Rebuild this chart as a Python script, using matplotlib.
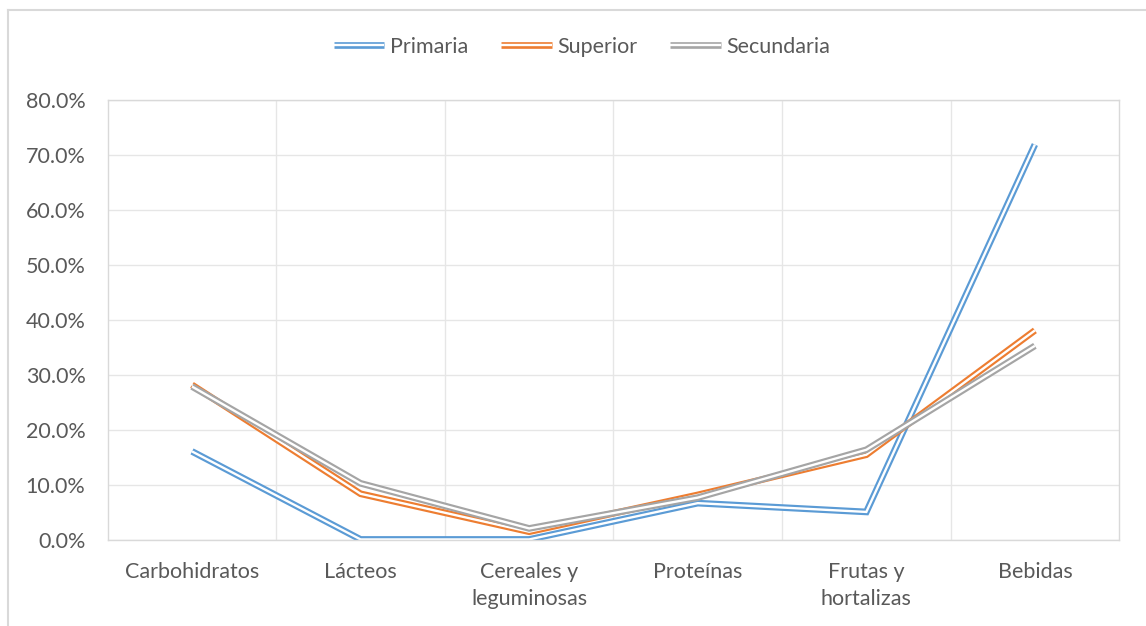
import numpy as np
import matplotlib
matplotlib.use('Agg')
import matplotlib.pyplot as plt
import matplotlib.patheffects as pe
from matplotlib.lines import Line2D
from matplotlib.ticker import FuncFormatter, MultipleLocator

# Categorías y porcentajes por nivel educativo
categorias = ['Carbohidratos', 'Lácteos', 'Cereales y\nleguminosas', 'Proteínas',
              'Frutas y\nhortalizas', 'Bebidas']
primaria = [16.1, 0.1, 0.1, 6.7, 5.1, 71.9]
superior = [28.2, 8.4, 1.5, 8.2, 15.5, 38.1]
secundaria = [27.9, 10.3, 2.1, 7.7, 16.4, 35.3]

series = [('Primaria', primaria, '#5B9BD5'),
          ('Superior', superior, '#ED7D31'),
          ('Secundaria', secundaria, '#A5A5A5')]

plt.rcParams['font.family'] = ['Lato', 'DejaVu Sans']
texto = '#595959'
rejilla = '#E6E6E6'
fs = 15.5

fig = plt.figure(figsize=(11.46, 6.26), dpi=100)
ax = fig.add_axes([0.094, 0.1374, 0.8826, 0.7029])

x = np.arange(len(categorias))
for nombre, vals, color in series:
    # línea doble: trazo grueso de color con trazo blanco encima
    ax.plot(x, np.array(vals) / 100, color=color, label=nombre,
            solid_capstyle='butt', solid_joinstyle='miter',
            path_effects=[pe.Stroke(linewidth=4.8, foreground=color),
                          pe.Stroke(linewidth=1.7, foreground='white')])

ax.set_xlim(-0.5, len(categorias) - 0.5)
ax.set_ylim(0, 0.8)
ax.yaxis.set_major_locator(MultipleLocator(0.1))
ax.yaxis.set_major_formatter(FuncFormatter(lambda v, p: f'{v * 100:.1f}%'))
ax.set_xticks(x)
ax.set_xticklabels(categorias, linespacing=1.4)
ax.set_xticks(x[:-1] + 0.5, minor=True)
ax.tick_params(axis='both', which='both', length=0, labelsize=fs, colors=texto)
ax.tick_params(axis='y', pad=16)
ax.tick_params(axis='x', pad=16)
ax.grid(axis='y', which='major', color=rejilla, linewidth=1)
ax.grid(axis='x', which='minor', color=rejilla, linewidth=1)
ax.set_axisbelow(True)
for s in ax.spines.values():
    s.set_color('#D9D9D9')
    s.set_linewidth(1)

ax.legend(loc='center', bbox_to_anchor=(0.508, 0.925), bbox_transform=fig.transFigure,
          ncol=3, frameon=False, fontsize=fs, labelcolor=texto,
          handlelength=2.35, handletextpad=0.28, columnspacing=1.5)

# marco exterior del gráfico
fig.add_artist(Line2D([8 / 1146, 8 / 1146], [0, 1 - 10 / 626], color='#D9D9D9', linewidth=1.5))
fig.add_artist(Line2D([8 / 1146, 1], [1 - 10 / 626, 1 - 10 / 626], color='#D9D9D9', linewidth=1.5))

fig.savefig('out.png', dpi=100, facecolor='white')
